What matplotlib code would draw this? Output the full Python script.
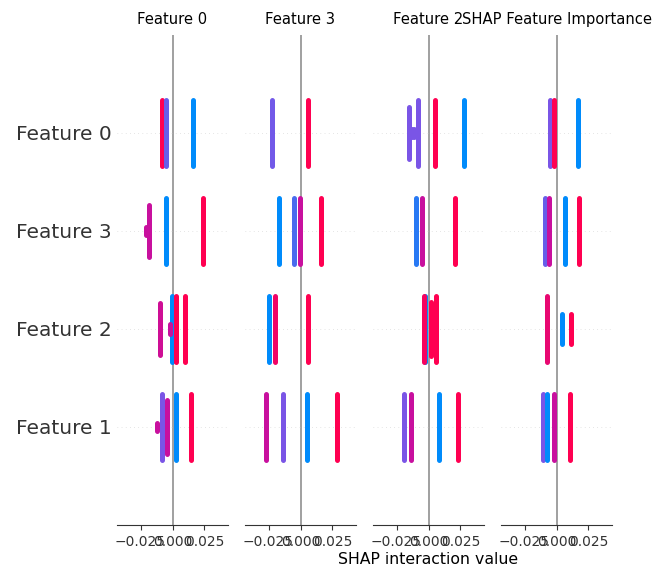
import numpy as np
import matplotlib.pyplot as plt
from matplotlib.colors import LinearSegmentedColormap

# filas de abajo hacia arriba (y = 0..3)
features = ["Feature 1", "Feature 2", "Feature 3", "Feature 0"]
titulos = ["Feature 0", "Feature 3", "Feature 2", "SHAP Feature Importance"]

# cada panel: fila, valor SHAP de la columna, valor de la variable (color), semialtura
p1_fila = [3, 3, 3, 2, 2, 2, 2, 1, 1, 1, 1, 1, 0, 0, 0, 0, 0]
p1_shap = [-0.0083, -0.0047, 0.0164, -0.0187, -0.0207, -0.0047, 0.0242,
           -0.0101, -0.0003, 0.0026, -0.0023, 0.0094,
           -0.0080, -0.0045, -0.0120, 0.0031, 0.0148]
p1_val = [1.0, 0.25, 0.0, 0.72, 0.72, 0.0, 1.0,
          0.75, 0.0, 1.0, 0.72, 1.0,
          0.3, 0.72, 0.72, 0.0, 1.0]
p1_alto = [0.335, 0.335, 0.335, 0.27, 0.04, 0.335, 0.335,
           0.27, 0.335, 0.335, 0.05, 0.335,
           0.335, 0.275, 0.04, 0.335, 0.335]

p2_fila = [3, 3, 2, 2, 2, 2, 1, 1, 1, 0, 0, 0, 0]
p2_shap = [-0.0224, 0.0062, -0.0169, -0.0052, -0.0002, 0.0161,
           -0.0247, -0.0200, 0.0057, -0.0268, -0.0138, 0.0049, 0.0283]
p2_val = [0.28, 1.0, 0.0, 0.18, 0.72, 1.0,
          0.0, 0.92, 1.0, 0.72, 0.3, 0.0, 1.0]
p2_alto = [0.335] * 13

p3_fila = [3, 3, 3, 3, 3, 3, 2, 2, 2, 1, 1, 1, 1, 0, 0, 0, 0]
p3_shap = [-0.0156, -0.0086, -0.0132, -0.0110, 0.0047, 0.0281,
           -0.0101, -0.0052, 0.0211,
           -0.0031, -0.0034, 0.0019, 0.0060,
           -0.0190, -0.0137, 0.0086, 0.0229]
p3_val = [0.3, 0.3, 0.3, 0.3, 1.0, 0.0,
          0.1, 0.72, 1.0,
          0.0, 0.95, 1.0, 1.0,
          0.3, 0.72, 0.0, 1.0]
p3_alto = [0.265, 0.335, 0.04, 0.04, 0.335, 0.335,
           0.335, 0.335, 0.335,
           0.335, 0.335, 0.275, 0.335,
           0.335, 0.335, 0.335, 0.335]

p4_fila = [3, 3, 3, 2, 2, 2, 2, 1, 1, 1, 0, 0, 0, 0]
p4_shap = [-0.0052, -0.0023, 0.0172, -0.0091, -0.0057, 0.0066, 0.0177,
           -0.0078, 0.0045, 0.0115, -0.0104, -0.0078, -0.0023, 0.0105]
p4_val = [0.3, 1.0, 0.0, 0.25, 0.72, 0.0, 1.0,
          0.88, 0.0, 1.0, 0.3, 0.0, 0.72, 1.0]
p4_alto = [0.335, 0.335, 0.335, 0.335, 0.335, 0.335, 0.335,
           0.335, 0.155, 0.155, 0.335, 0.335, 0.335, 0.335]

paneles = [
    (p1_fila, p1_shap, p1_val, p1_alto),
    (p2_fila, p2_shap, p2_val, p2_alto),
    (p3_fila, p3_shap, p3_val, p3_alto),
    (p4_fila, p4_shap, p4_val, p4_alto),
]

# mapa de color rojo-azul estilo shap
cmap = LinearSegmentedColormap.from_list(
    "red_blue", [(0.0, "#008bfb"), (0.3, "#7b55e6"), (0.72, "#c8109e"), (1.0, "#ff0051")])

fig = plt.figure(figsize=(6.52, 5.67), dpi=100)
W, H = 652, 567
lefts = [117, 245, 373, 501]
ancho = 111
arriba, abajo = 35, 525
lim = 0.0434

for k, (fila, shap, val, alto) in enumerate(paneles):
    ax = fig.add_axes([lefts[k] / W, 1 - abajo / H, ancho / W, (abajo - arriba) / H])
    ax.axvline(0, color="#999999", lw=1.3, zorder=-1)
    for pos in range(len(features)):
        ax.axhline(pos, color="#cccccc", lw=0.5, dashes=(1, 5), zorder=-1)
    for r, x, v, h in zip(fila, shap, val, alto):
        ax.plot([x, x], [r - h, r + h], color=cmap(v), lw=3.6,
                solid_capstyle="round", zorder=3)

    ax.set_xlim(-lim, lim)
    ax.set_ylim(-1, len(features))
    ax.set_xticks([-0.025, 0.0, 0.025])
    ax.set_xticklabels(["\u22120.025", "0.000", "0.025"])
    ax.tick_params("x", labelsize=10, color="#333333", labelcolor="#333333")
    for s in ["right", "top", "left"]:
        ax.spines[s].set_visible(False)
    ax.spines["bottom"].set_color("#333333")
    ax.set_yticks(range(len(features)))
    if k == 0:
        ax.set_yticklabels(features)
        ax.tick_params("y", length=0, labelsize=14.5, labelcolor="#333333", pad=4)
    else:
        ax.set_yticklabels([])
        ax.tick_params("y", length=0)
    ax.set_title(titulos[k], fontsize=10.6, pad=8)
    if k == 2:
        ax.set_xlabel("SHAP interaction value", fontsize=11.3, labelpad=2)

fig.savefig("out.png", dpi=100)
